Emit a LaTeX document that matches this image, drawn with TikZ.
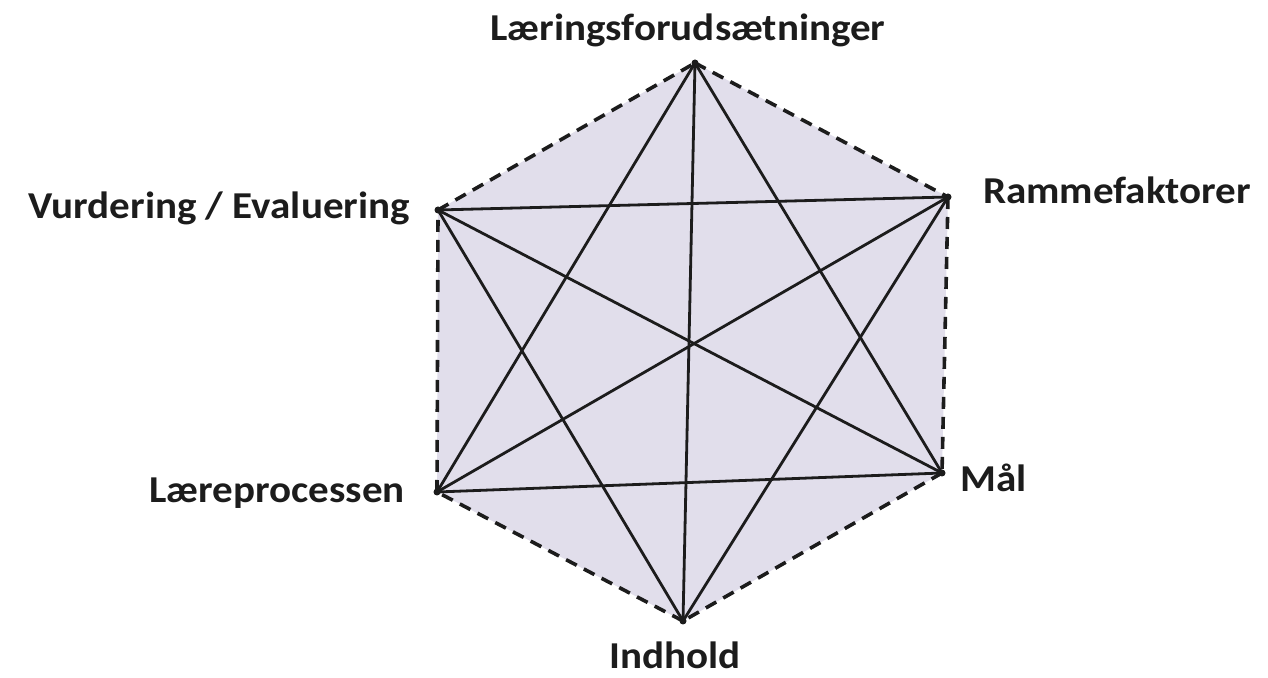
\documentclass[tikz,border=0pt]{standalone}
\usepackage{fontspec}
\setmainfont{Carlito}[FakeStretch=1.08]
\definecolor{hexfill}{RGB}{225,222,235}
\definecolor{inkc}{RGB}{28,28,28}
\begin{document}
\begin{tikzpicture}[x=1pt,y=1pt,
  lbl/.style={inner sep=0pt,font=\fontsize{38}{44}\selectfont\bfseries,text=inkc},
  diag/.style={draw=inkc,line width=2.8pt},
  edge/.style={draw=inkc,line width=3.6pt,dash pattern=on 12pt off 8pt},
  vdot/.style={fill=inkc}]
\useasboundingbox (0,0) rectangle (1268,677);
\coordinate (T)  at (695,614);
\coordinate (UR) at (948,480);
\coordinate (LR) at (942,204);
\coordinate (B)  at (683,56);
\coordinate (LL) at (437,185);
\coordinate (UL) at (438,467);
\fill[hexfill] (T) -- (UR) -- (LR) -- (B) -- (LL) -- (UL) -- cycle;
% diagonals
\draw[diag] (T) -- (B);
\draw[diag] (T) -- (LR);
\draw[diag] (T) -- (LL);
\draw[diag] (UR) -- (UL);
\draw[diag] (UR) -- (LL);
\draw[diag] (UR) -- (B);
\draw[diag] (UL) -- (LR);
\draw[diag] (UL) -- (B);
\draw[diag] (LL) -- (LR);
% dashed hexagon edges
\draw[edge] (T) -- (UR);
\draw[edge] (UR) -- (LR);
\draw[edge] (LR) -- (B);
\draw[edge] (B) -- (LL);
\draw[edge] (LL) -- (UL);
\draw[edge] (UL) -- (T);
\foreach \v in {T,UR,LR,B,LL,UL} \fill[vdot] (\v) circle (3.5pt);
% labels
\node[lbl,anchor=base] (lT) at (688,636) {Læringsforudsætninger};
\node[lbl,anchor=base west] (lUR) at (983,473) {Rammefaktorer};
\node[lbl,anchor=base east] (lUL) at (410,458) {Vurdering / Evaluering};
\node[lbl,anchor=base east] (lLL) at (405,174) {Læreprocessen};
\node[lbl,anchor=base west] (lLR) at (960,185) {Mål};
\node[lbl,anchor=base] (lB) at (675,9) {Indhold};
\end{tikzpicture}
\end{document}
